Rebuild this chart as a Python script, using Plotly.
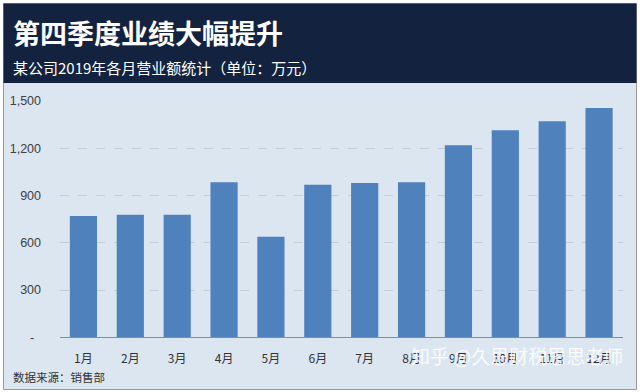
import plotly.graph_objects as go

months = ["1月", "2月", "3月", "4月", "5月", "6月", "7月", "8月", "9月", "10月", "11月", "12月"]
revenue = [770, 778, 778, 985, 638, 968, 980, 984, 1219, 1314, 1371, 1456]
tick_vals = [0, 300, 600, 900, 1200, 1500]
tick_text = ["-\u00a0\u00a0", "300", "600", "900", "1,200", "1,500"]

title = "第四季度业绩大幅提升"
subtitle = "某公司2019年各月营业额统计（单位：万元）"
source = "数据来源：销售部"
watermark = "知乎 @久思财税思思老师"

W, H = 640, 392
FONT = "Noto Sans CJK SC"

def px(x):
    return x / W

def py(y):
    return 1 - y / H

fig = go.Figure()
fig.add_trace(go.Bar(x=months, y=revenue, marker=dict(color="#4f81bd", line=dict(width=0)),
                     hoverinfo="x+y"))

shapes = [
    dict(type="rect", xref="paper", yref="paper", x0=px(3.5), x1=px(636.5), y0=py(389.5), y1=py(3.5),
         fillcolor="#dce6f1", line=dict(color="#9a9a9a", width=1), layer="below"),
    dict(type="rect", xref="paper", yref="paper", x0=px(3.5), x1=px(636.5), y0=py(83), y1=py(3.5),
         fillcolor="#13233f", line=dict(width=0), layer="below"),
]

annotations = [
    dict(text=title, x=px(11), y=py(33), xref="paper", yref="paper", xanchor="left", yanchor="middle",
         showarrow=False, font=dict(family=FONT, size=27, color="white", weight="bold")),
    dict(text=subtitle, x=px(11), y=py(68), xref="paper", yref="paper", xanchor="left", yanchor="middle",
         showarrow=False, font=dict(family=FONT, size=15, color="white")),
    dict(text=source, x=px(11), y=py(377), xref="paper", yref="paper", xanchor="left", yanchor="middle",
         showarrow=False, font=dict(family=FONT, size=11.5, color="#333333")),
    dict(text=watermark, x=px(625), y=py(355), xref="paper", yref="paper", xanchor="right", yanchor="middle",
         showarrow=False, font=dict(family=FONT, size=19, color="rgba(255,255,255,0.85)")),
]

fig.update_layout(
    width=W, height=H,
    margin=dict(l=0, r=0, t=0, b=0),
    paper_bgcolor="white",
    plot_bgcolor="rgba(0,0,0,0)",
    template="none",
    showlegend=False,
    bargap=0.42,
    shapes=shapes,
    annotations=annotations,
    font=dict(family=FONT, color="#404040"),
)
fig.update_xaxes(
    domain=[px(60), px(622.5)],
    automargin=False,
    showgrid=False,
    showline=True, linecolor="#8c8c8c", linewidth=1,
    ticks="", ticklabelstandoff=10,
    tickfont=dict(family=FONT, size=12, color="#333333"),
    fixedrange=True,
)
fig.update_yaxes(
    domain=[py(337.3), py(101)],
    range=[0, 1500],
    automargin=False,
    tickvals=tick_vals, ticktext=tick_text,
    showgrid=True, gridcolor="#c4ccd8", griddash="dash", gridwidth=1,
    zeroline=False, showline=False, ticks="",
    ticklabelstandoff=18,
    tickfont=dict(family="Liberation Sans", size=12.5, color="#404040"),
    fixedrange=True,
)

fig.write_html("out.html", config={"displayModeBar": False},
               post_script="document.body.style.margin='0';document.body.style.padding='0';")
